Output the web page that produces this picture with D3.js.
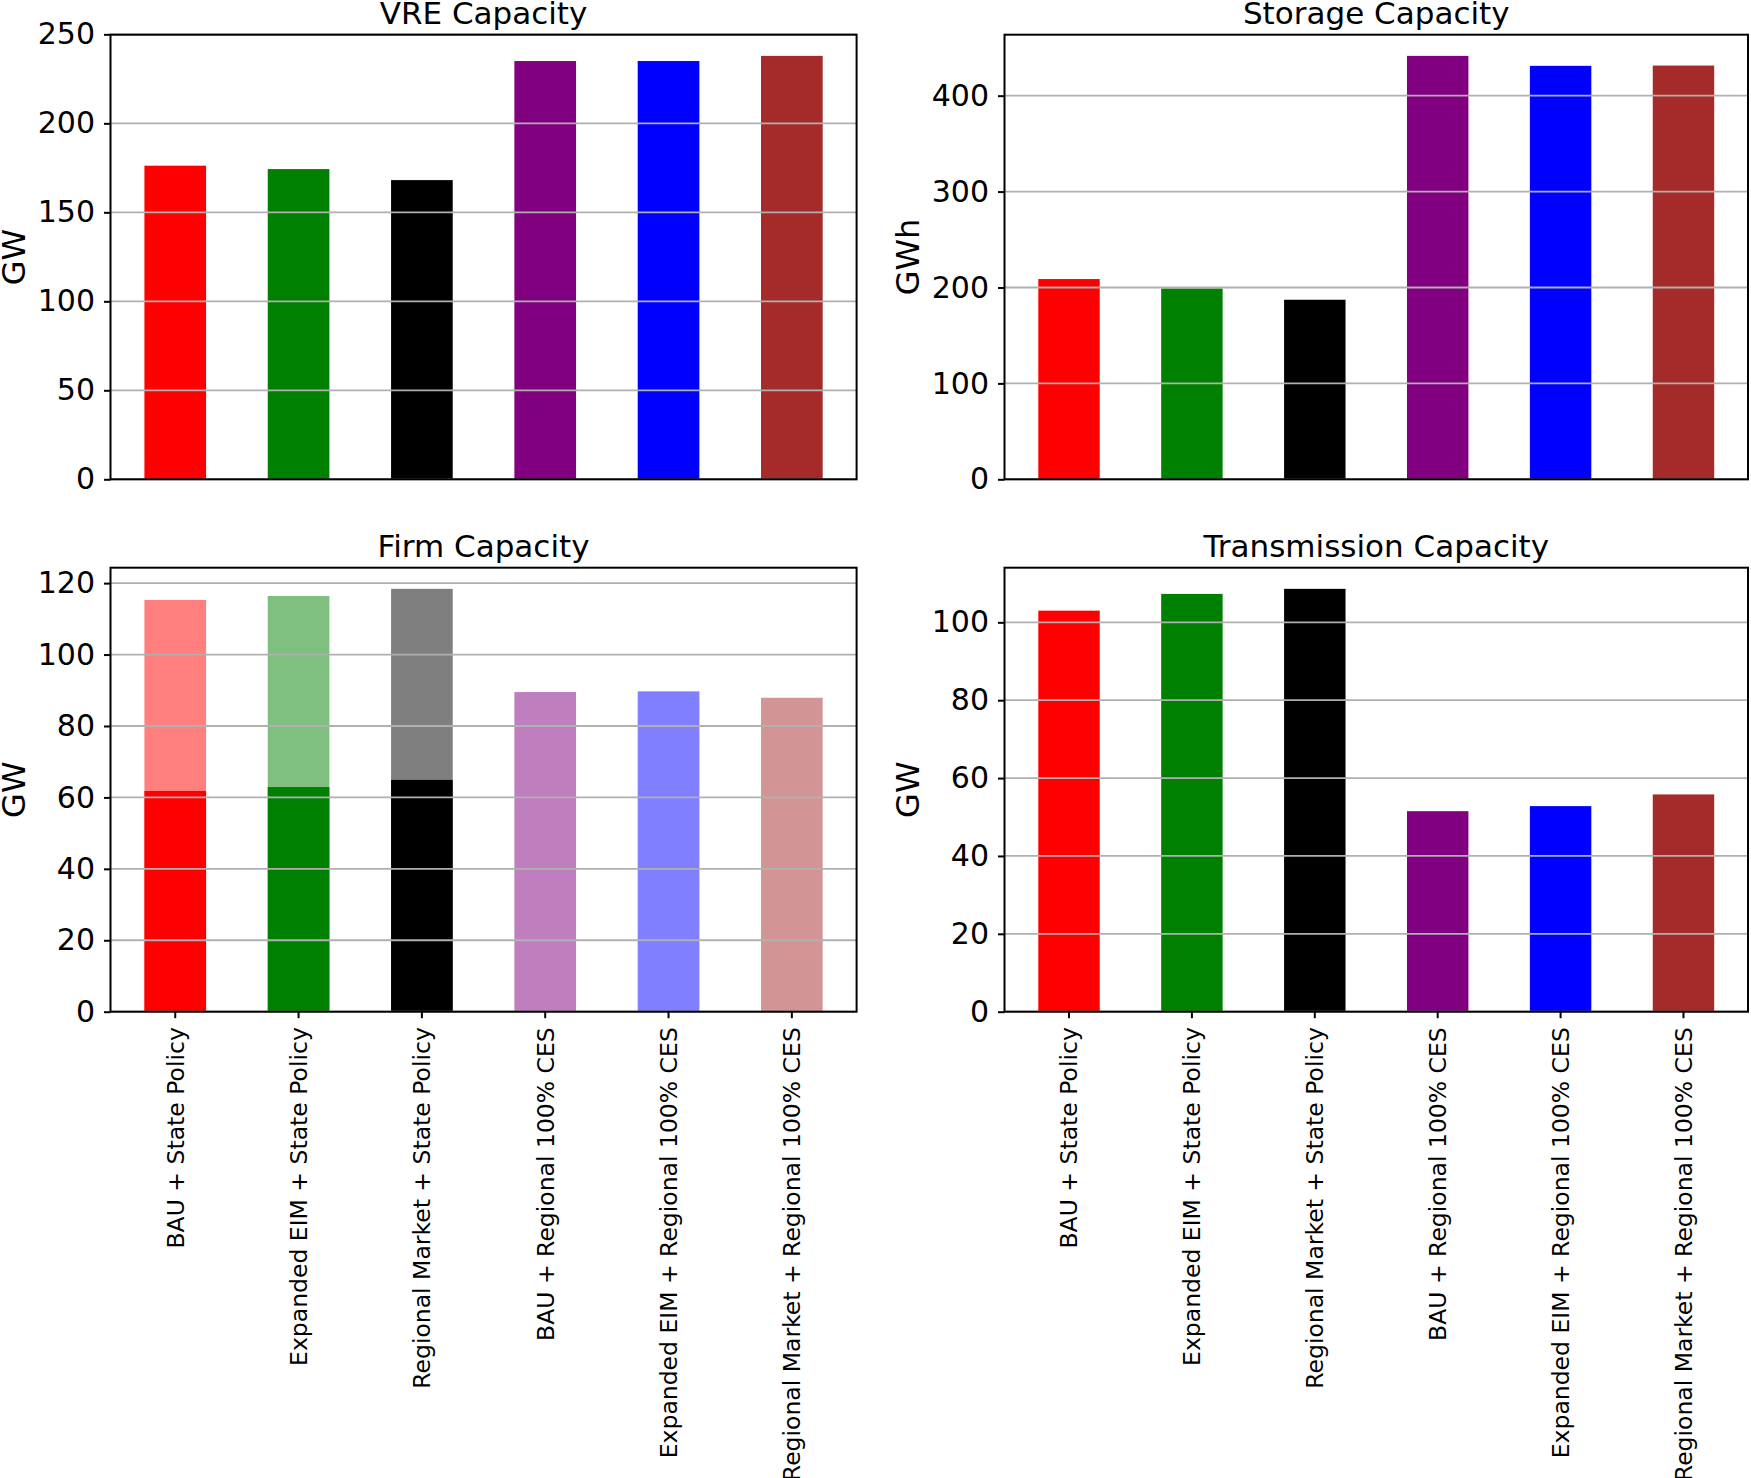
<!DOCTYPE html>
<html>
<head>
<meta charset="utf-8">
<script src="https://cdn.jsdelivr.net/npm/d3@7"></script>
<style>
  body { margin: 0; background: #fff; }
  text { font-family: "DejaVu Sans", sans-serif; }
</style>
</head>
<body>
<div id="chart"></div>
<script>
// scenario names (x categories)
const scenarios = [
  'BAU + State Policy',
  'Expanded EIM + State Policy',
  'Regional Market + State Policy',
  'BAU + Regional 100% CES',
  'Expanded EIM + Regional 100% CES',
  'Regional Market + Regional 100% CES'
]
const barColors = ['red', 'green', 'black', 'purple', 'blue', 'brown']

// values
const vreCapacity = [176.2, 174.3, 168.1, 235.0, 235.0, 237.9]
const storageCapacity = [208.8, 199.0, 187.2, 441.5, 431.1, 431.4]
const firmTotal = [115.3, 116.4, 118.4, 89.5, 89.7, 87.9]
const firmBase = [61.8, 62.9, 64.9, 0, 0, 0]
const transCapacity = [103.0, 107.3, 108.6, 51.5, 52.8, 55.8]

// y ticks
const vreTicks = [0, 50, 100, 150, 200, 250]
const storageTicks = [0, 100, 200, 300, 400]
const firmTicks = [0, 20, 40, 60, 80, 100, 120]
const transTicks = [0, 20, 40, 60, 80, 100]

const svgWidth = 1751
const svgHeight = 1478

const svg = d3.select('#chart').append('svg')
  .attr('width', svgWidth)
  .attr('height', svgHeight)

// panel boxes
const leftCol = { left: 110.5, right: 856.6 }
const rightCol = { left: 1004.5, right: 1748 }
const topRow = { top: 34.7, bottom: 479.3 }
const botRow = { top: 567.7, bottom: 1011.7 }

function drawPanel(box, opts) {
  const g = svg.append('g')
  const w = box.right - box.left
  const h = box.bottom - box.top

  const x = d3.scaleBand()
    .domain(scenarios)
    .range([box.left, box.right])
    .paddingInner(0.5)
    .paddingOuter(0.275)

  const maxVal = d3.max(opts.values)
  const y = d3.scaleLinear()
    .domain([0, maxVal * 1.05])
    .range([box.bottom, box.top])

  // bars
  g.append('g').selectAll('rect')
    .data(opts.values)
    .join('rect')
    .attr('x', (d, i) => x(scenarios[i]))
    .attr('width', x.bandwidth())
    .attr('y', d => y(d))
    .attr('height', d => y(0) - y(d))
    .attr('fill', (d, i) => barColors[i])
    .attr('fill-opacity', opts.alpha || 1)

  if (opts.base) {
    g.append('g').selectAll('rect')
      .data(opts.base)
      .join('rect')
      .attr('x', (d, i) => x(scenarios[i]))
      .attr('width', x.bandwidth())
      .attr('y', d => y(d))
      .attr('height', d => y(0) - y(d))
      .attr('fill', (d, i) => barColors[i])
  }

  // grid on top of bars
  g.append('g').selectAll('line')
    .data(opts.ticks)
    .join('line')
    .attr('x1', box.left)
    .attr('x2', box.right)
    .attr('y1', d => y(d))
    .attr('y2', d => y(d))
    .attr('stroke', '#b0b0b0')
    .attr('stroke-width', 1.8)

  // y axis
  const yAxis = g.append('g')
    .attr('transform', `translate(${box.left},0)`)
    .call(d3.axisLeft(y).tickValues(opts.ticks).tickSize(6.5).tickPadding(9))
  yAxis.select('.domain').remove()
  yAxis.selectAll('.tick line').attr('stroke', '#000').attr('stroke-width', 2)
  yAxis.selectAll('.tick text')
    .attr('fill', '#000')
    .style('font-size', '30px')
    .style('font-family', '"DejaVu Sans", sans-serif')

  // x axis (bottom row only)
  if (opts.xLabels) {
    const xAxis = g.append('g')
      .attr('transform', `translate(0,${box.bottom})`)
      .call(d3.axisBottom(x).tickSize(6.5))
    xAxis.select('.domain').remove()
    xAxis.selectAll('.tick line').attr('stroke', '#000').attr('stroke-width', 2)
    xAxis.selectAll('.tick text')
      .attr('fill', '#000')
      .style('font-size', '23.5px')
      .style('font-family', '"DejaVu Sans", sans-serif')
      .attr('text-anchor', 'end')
      .attr('transform', 'rotate(-90)')
      .attr('x', -15.5)
      .attr('y', 0)
      .attr('dy', '0.36em')
  }

  // frame
  g.append('rect')
    .attr('x', box.left)
    .attr('y', box.top)
    .attr('width', w)
    .attr('height', h)
    .attr('fill', 'none')
    .attr('stroke', '#000')
    .attr('stroke-width', 2)

  // title
  g.append('text')
    .attr('x', box.left + w / 2)
    .attr('y', box.top - 11)
    .attr('text-anchor', 'middle')
    .style('font-size', '31px')
    .text(opts.title)

  // y label
  g.append('text')
    .attr('transform', `translate(${box.left - 86},${box.top + h / 2}) rotate(-90)`)
    .attr('text-anchor', 'middle')
    .style('font-size', '32px')
    .text(opts.yLabel)
}

drawPanel({ left: leftCol.left, right: leftCol.right, top: topRow.top, bottom: topRow.bottom },
  { values: vreCapacity, ticks: vreTicks, title: 'VRE Capacity', yLabel: 'GW' })

drawPanel({ left: rightCol.left, right: rightCol.right, top: topRow.top, bottom: topRow.bottom },
  { values: storageCapacity, ticks: storageTicks, title: 'Storage Capacity', yLabel: 'GWh' })

drawPanel({ left: leftCol.left, right: leftCol.right, top: botRow.top, bottom: botRow.bottom },
  { values: firmTotal, base: firmBase, alpha: 0.5, ticks: firmTicks, title: 'Firm Capacity', yLabel: 'GW', xLabels: true })

drawPanel({ left: rightCol.left, right: rightCol.right, top: botRow.top, bottom: botRow.bottom },
  { values: transCapacity, ticks: transTicks, title: 'Transmission Capacity', yLabel: 'GW', xLabels: true })
</script>
</body>
</html>
